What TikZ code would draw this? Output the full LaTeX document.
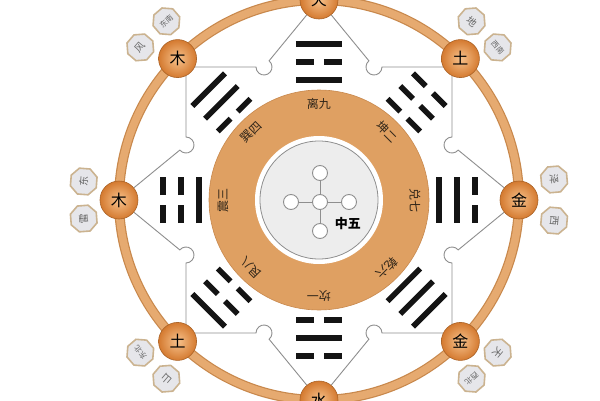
\documentclass[tikz,border=0pt]{standalone}
\usepackage{fontspec}
\newfontfamily\cjk{Noto Sans CJK SC}
\usetikzlibrary{shapes.geometric,backgrounds}
\definecolor{ringfill}{HTML}{E6AA70}
\definecolor{ringedge}{HTML}{C8884C}
\definecolor{discfill}{HTML}{DFA062}
\definecolor{nodein}{HTML}{F7C28C}
\definecolor{nodeout}{HTML}{D47A30}
\definecolor{octfill}{HTML}{E6E6EA}
\definecolor{octedge}{HTML}{CBB390}
\definecolor{framec}{HTML}{8E8E8E}
\definecolor{txt}{HTML}{2E2418}
\newcommand\octS{\cjk\fontsize{7.5}{7.5}\selectfont}
\newcommand\octL{\cjk\fontsize{10}{10}\selectfont}
\begin{document}
\begin{tikzpicture}[x=1pt,y=1pt,font=\cjk,
  elem/.style={circle,minimum size=38pt,inner sep=0pt,shading=radial,inner color=nodein,outer color=nodeout,draw=nodeout!80!black,line width=0.6pt,font=\cjk\fontsize{16}{16}\selectfont},
  oct/.style={regular polygon,regular polygon sides=8,minimum size=28pt,inner sep=0pt,fill=octfill,draw=octedge,line width=1.6pt,text=black!60},
  ringtxt/.style={font=\cjk\fontsize{12}{12}\selectfont,text=txt,inner sep=0pt},
  frameline/.style={draw=framec,line width=0.9pt},
  bar/.style={line width=5.5pt,draw=black!92},
  dot/.style={circle,minimum size=15pt,inner sep=0pt,draw=framec,fill=white,line width=0.9pt}
]
\useasboundingbox (-319,-200) rectangle (281,200);

% trigrams (bottom line innermost)
\foreach \ang/\a/\b/\c in {90/1/0/1,45/0/0/0,0/1/1/0,-45/1/1/1,-90/0/1/0,-135/0/0/1,180/1/0/0,135/0/1/1}{
  \begin{scope}[rotate=\ang-90]
    \foreach \r/\v in {120/\a,138/\b,156/\c}{
      \ifnum\v=1
        \draw[bar] (-23,\r) -- (23,\r);
      \else
        \draw[bar] (-23,\r) -- (-5,\r) (5,\r) -- (23,\r);
      \fi
    }
  \end{scope}
}

% ring texts
\foreach \ang/\t in {90/离九,45/坤二,0/兑七,-45/乾六,-90/坎一,-135/艮八,180/震三,135/巽四}{
  \node[ringtxt,rotate=\ang-90] (rt\ang) at (\ang:96) {\t};
}

% centre cross
\node[dot] (cc) at (1,-2) {};
\node[dot] (ct) at (1,27) {};
\node[dot] (cb) at (1,-31) {};
\node[dot] (cl) at (-28,-2) {};
\node[dot] (cr) at (30,-2) {};
\draw[frameline] (cc) -- (ct) (cc) -- (cb) (cc) -- (cl) (cc) -- (cr);
\node[font=\cjk\bfseries\fontsize{13}{13}\selectfont,text=black] (mid) at (29,-24) {中五};

% element nodes
\node[elem] (fire) at (90:200) {火};
\node[elem] (earthNE) at (45:200) {土};
\node[elem] (metalE) at (0:200) {金};
\node[elem] (metalSE) at (-45:200) {金};
\node[elem] (water) at (-90:200) {水};
\node[elem] (earthSW) at (-135:200) {土};
\node[elem] (woodW) at (180:200) {木};
\node[elem] (woodNW) at (135:200) {木};

% octagon labels
\node[oct,font=\octS,rotate=40.5] (o1) at (130.5:235) {东南};
\node[oct,font=\octL,rotate=49.5] (o2) at (139.5:235) {风};
\node[oct,font=\octS,rotate=-49.5] (o3) at (40.5:235) {西南};
\node[oct,font=\octL,rotate=-40.5] (o4) at (49.5:235) {地};
\node[oct,font=\octL,rotate=-95] (o5) at (-5:236) {西};
\node[oct,font=\octL,rotate=-85] (o6) at (5:236) {泽};
\node[oct,font=\octS,rotate=-139.5] (o7) at (-49.5:235) {西北};
\node[oct,font=\octL,rotate=-130.5] (o8) at (-40.5:235) {天};
\node[oct,font=\octS,rotate=-229.5] (o9) at (-139.5:235) {东北};
\node[oct,font=\octL,rotate=-220.5] (o10) at (-130.5:235) {山};
\node[oct,font=\octL,rotate=85.5] (o11) at (175.5:236) {东};
\node[oct,font=\octL,rotate=94.5] (o12) at (184.5:236) {雷};

\coordinate (cTR) at (133,133);
\coordinate (cTL) at (-133,133);
\coordinate (cBL) at (-133,-133);
\coordinate (cBR) at (133,-133);

\begin{scope}[on background layer]
  \fill[white] (-319,-200) rectangle (281,200);
  \draw[ringedge,line width=10pt] (0,0) circle[radius=200];
  \draw[ringfill,line width=7.6pt] (0,0) circle[radius=200];
  \draw[fill=discfill,draw=ringedge,line width=0.6pt] (0,0) circle[radius=110];
  \fill[white] (0,0) circle[radius=64];
  \draw[fill=black!7,draw=framec,line width=0.8pt] (0,0) circle[radius=59];
  \foreach \r/\n/\ra/\la in {0/fire/cTR/cTL,90/woodW/cTL/cBL,180/water/cBL/cBR,270/metalE/cBR/cTR}{
    \begin{scope}[rotate=\r]
      \draw[frameline] (\n) -- (49.92,139.18) arc[start angle=129.4,end angle=360,radius=8] -- (\ra);
      \draw[frameline] (\n) -- (-49.92,139.18) arc[start angle=50.6,end angle=-180,radius=8] -- (\la);
    \end{scope}
  }
\end{scope}
\end{tikzpicture}
\end{document}
